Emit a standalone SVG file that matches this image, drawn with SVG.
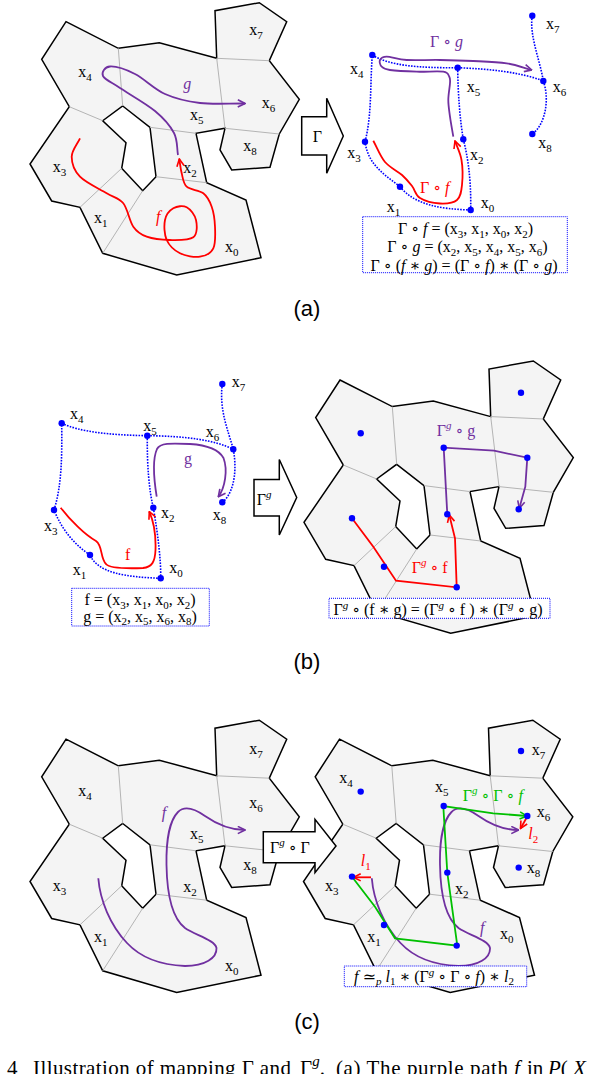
<svg xmlns="http://www.w3.org/2000/svg" width="604" height="1074" viewBox="0 0 604 1074">
<style>
.map{fill:#f4f4f4;stroke:#000;stroke-width:1.5;fill-rule:evenodd;stroke-linejoin:miter}
.div{fill:none;stroke:#b4b4b4;stroke-width:1}
.lbl{font-family:"Liberation Serif","DejaVu Serif",serif;font-size:16px;fill:#000}
.sub{font-size:11px}
.it{font-style:italic}
.dot{fill:#0000ff}
.dl{fill:none;stroke:#0000ff;stroke-width:1.6;stroke-dasharray:1.6 1.3}
.pp{fill:none;stroke:#7030a0;stroke-width:1.8}
.rp{fill:none;stroke:#ff0000;stroke-width:1.8}
.gp{fill:none;stroke:#00c000;stroke-width:1.8}
.box{fill:#fff;stroke:#0000ff;stroke-width:1;stroke-dasharray:1 1}
.arr{fill:#fff;stroke:#000;stroke-width:1.5}
.cap{font-family:"Liberation Serif",serif;font-size:21px;fill:#000}
.pl{font-family:"Liberation Sans",Arial,sans-serif;font-size:22px;fill:#000}
.purple{fill:#7030a0}
.red{fill:#ff0000}
.green{fill:#00c000}
</style>
<defs>
<marker id="mp" viewBox="0 0 10 10" refX="9" refY="5" markerWidth="9" markerHeight="9" markerUnits="userSpaceOnUse" orient="auto"><path d="M1,1 L9,5 L1,9" fill="none" stroke="#7030a0" stroke-width="1.8"/></marker>
<marker id="mr" viewBox="0 0 10 10" refX="9" refY="5" markerWidth="9" markerHeight="9" markerUnits="userSpaceOnUse" orient="auto"><path d="M1,1 L9,5 L1,9" fill="none" stroke="#ff0000" stroke-width="1.8"/></marker>
<marker id="mg" viewBox="0 0 10 10" refX="9" refY="5" markerWidth="9" markerHeight="9" markerUnits="userSpaceOnUse" orient="auto"><path d="M1,1 L9,5 L1,9" fill="none" stroke="#00c000" stroke-width="1.8"/></marker>
<g id="map">
<path class="map" d="M66,21.7 L118.3,48.3 L159.3,42.7 L216.7,58.3 L215,10.7 L259.3,2.7 L286.7,21.7 L269.3,60.7 L299.3,99.3 L279.3,134 L270,167.3 L231.7,170 L220,150 L225,128.3 L196,133.3 L206.7,182.7 L246,200 L261,257.7 L176.7,275 L102.7,253.3 L80,207.3 L51.7,201 L30,164 L69.3,106.7 L41.7,59.3 Z M122.7,106 L150,127.3 L156,176.7 L142.7,190.7 L121.7,168.3 L126,142.7 L102.7,120.7 Z"/>
<path class="div" d="M118.3,48.3 L122.7,106 M69.3,106.7 L102.7,120.7 M216.7,58.3 L225,128.3 M216.7,58.3 L269.3,60.7 M225,128.3 L279.3,134 M150,127.3 L196,133.3 M156,176.7 L206.7,182.7 M121.7,168.3 L80,207.3 M142.7,190.7 L102.7,253.3"/>
</g>
</defs>

<!-- ===== (a) ===== -->
<g id="a-left">
<use href="#map"/>
<text class="lbl" x="249.3" y="35">x<tspan class="sub" dy="4">7</tspan></text>
<text class="lbl" x="78.3" y="76.7">x<tspan class="sub" dy="4">4</tspan></text>
<text class="lbl" x="261.7" y="108.3">x<tspan class="sub" dy="4">6</tspan></text>
<text class="lbl" x="190" y="120">x<tspan class="sub" dy="4">5</tspan></text>
<text class="lbl" x="243.3" y="150.7">x<tspan class="sub" dy="4">8</tspan></text>
<text class="lbl" x="52.7" y="171.7">x<tspan class="sub" dy="4">3</tspan></text>
<text class="lbl" x="183.3" y="173.3">x<tspan class="sub" dy="4">2</tspan></text>
<text class="lbl" x="94" y="222.7">x<tspan class="sub" dy="4">1</tspan></text>
<text class="lbl" x="225" y="251.7">x<tspan class="sub" dy="4">0</tspan></text>
<path class="pp" marker-end="url(#mp)" d="M178,155 C176.7,147.7 177.8,140.3 174,133 S164,118.5 155,111 S128.7,93.8 120,88 S104.7,79.6 103,76 S104.7,66.8 110,66.5 S125.8,69.4 135,74 S154.2,89.2 165,94 S186.7,101.4 200,103 S230,103.3 245,103.5"/>
<path class="rp" marker-end="url(#mr)" d="M80,138.3 C77.2,144.4 71.7,150.3 71.7,156.7 S74.2,170.6 80,176.7 S99.5,188.9 106.7,193.3 S118.9,197.7 123.3,203.3 S129.4,221.1 133.3,226.7 S140.6,234.5 146.7,236.7 S162.2,239.9 170,240 S189,240.6 193.3,237.3 S197.1,225 196,220 S190.5,209.3 186.7,207.3 S176.9,206.2 173.3,208.3 S166.1,214.7 165,220 S164.2,234.5 166.7,240 S174.5,250.5 180,253.3 S194.5,257.5 200,256.7 S210.8,253.3 213.3,248.3 S215.3,233.6 215,226.7 S213.7,212.3 211.7,206.7 S207.5,196.6 203.3,193.3 S190.3,190 186.7,186.7 S182.9,177.9 181.7,173.3 S180.1,163.8 179.3,159"/>
<text class="lbl it purple" x="183.3" y="89" font-size="18">g</text>
<text class="lbl it red" x="156" y="222" font-size="18">f</text>
</g>

<g id="a-arrow">
<polygon class="arr" points="301.7,116.7 326.7,116.7 326.7,98.3 343.3,136 326.7,173.3 326.7,155 301.7,155"/>
<text class="lbl" x="312.7" y="141.7">Γ</text>
</g>

<g id="a-right">
<g id="a-dotted">
<path class="dl" d="M532.3,15.7 C529,35 540,60 543.3,81"/>
<path class="dl" d="M543.3,81 C550,100 545,125 532.3,134"/>
<path class="dl" d="M372.3,55 C390,66 420,68 457.7,67.7"/>
<path class="dl" d="M457.7,67.7 C490,69 520,72 543.3,81"/>
<path class="dl" d="M457.7,67.7 C458,95 460,120 463.3,139.3"/>
<path class="dl" d="M463.3,139.3 C470,165 471,190 470.7,210"/>
<path class="dl" d="M470.7,210 C440,209 415,205 400,186.7"/>
<path class="dl" d="M400,186.7 C385,175 368,165 365,141.7"/>
<path class="dl" d="M365,141.7 C372,115 370,85 372.3,55"/>
</g>
<path class="pp" marker-end="url(#mp)" d="M453.3,136.7 C452.2,130 450.8,122.8 450,116.7 S448.3,105.6 448.3,100 S449.8,87.2 450,83.3 S450.4,78.6 449.3,76.7 S448.7,72.5 443.3,71.7 S425.6,72 416.7,71.7 S395.8,70.8 390,70 S383.4,68.4 381.7,66.7 S379.2,61.7 380,60 S382.3,56.7 386.7,56.7 S397.8,59.5 406.7,60 S428.9,59.8 440,60 S462.2,60.5 473.3,61 S497,61.8 506.7,63.3 S523.4,67.8 531.7,70"/>
<path class="rp" marker-end="url(#mr)" d="M373.3,140.7 C377.2,147.8 380.2,156.3 385,162 S397.5,171 402,175 S409,182.2 412,186 S415.3,195.1 420,198 S433.8,203.2 440,203.5 S453.3,203.1 457,200 S461.3,191.7 462,185 S462.7,167.3 461.5,160 S457.2,147.3 455,141"/>
<g id="a-dots">
<circle class="dot" cx="532.3" cy="15.7" r="3.2"/>
<circle class="dot" cx="372.3" cy="55" r="3.2"/>
<circle class="dot" cx="457.7" cy="67.7" r="3.2"/>
<circle class="dot" cx="543.3" cy="81" r="3.2"/>
<circle class="dot" cx="365" cy="141.7" r="3.2"/>
<circle class="dot" cx="463.3" cy="139.3" r="3.2"/>
<circle class="dot" cx="532.3" cy="134" r="3.2"/>
<circle class="dot" cx="400" cy="186.7" r="3.2"/>
<circle class="dot" cx="470.7" cy="210" r="3.2"/>
</g>
<text class="lbl" x="546" y="29">x<tspan class="sub" dy="4">7</tspan></text>
<text class="lbl" x="350" y="74">x<tspan class="sub" dy="4">4</tspan></text>
<text class="lbl" x="466.7" y="91.7">x<tspan class="sub" dy="4">5</tspan></text>
<text class="lbl" x="552.7" y="91.7">x<tspan class="sub" dy="4">6</tspan></text>
<text class="lbl" x="347.3" y="158">x<tspan class="sub" dy="4">3</tspan></text>
<text class="lbl" x="470" y="160">x<tspan class="sub" dy="4">2</tspan></text>
<text class="lbl" x="538.3" y="148">x<tspan class="sub" dy="4">8</tspan></text>
<text class="lbl" x="386.7" y="211.7">x<tspan class="sub" dy="4">1</tspan></text>
<text class="lbl" x="480.7" y="208.3">x<tspan class="sub" dy="4">0</tspan></text>
<text class="lbl purple" x="430" y="47" font-size="17">Γ ∘ <tspan class="it">g</tspan></text>
<text class="lbl red" x="420" y="193" font-size="17">Γ ∘ <tspan class="it">f</tspan></text>
<g id="a-box">
<rect class="box" x="362.7" y="216.7" width="204.6" height="56"/>
<text class="lbl" x="465.5" y="234" text-anchor="middle" font-size="15">Γ ∘ <tspan class="it">f</tspan> = (x<tspan class="sub" dy="3.5">3</tspan><tspan dy="-3.5">, x</tspan><tspan class="sub" dy="3.5">1</tspan><tspan dy="-3.5">, x</tspan><tspan class="sub" dy="3.5">0</tspan><tspan dy="-3.5">, x</tspan><tspan class="sub" dy="3.5">2</tspan><tspan dy="-3.5">)</tspan></text>
<text class="lbl" x="467.5" y="252.3" text-anchor="middle" font-size="15">Γ ∘ <tspan class="it">g</tspan> = (x<tspan class="sub" dy="3.5">2</tspan><tspan dy="-3.5">, x</tspan><tspan class="sub" dy="3.5">5</tspan><tspan dy="-3.5">, x</tspan><tspan class="sub" dy="3.5">4</tspan><tspan dy="-3.5">, x</tspan><tspan class="sub" dy="3.5">5</tspan><tspan dy="-3.5">, x</tspan><tspan class="sub" dy="3.5">6</tspan><tspan dy="-3.5">)</tspan></text>
<text class="lbl" x="464" y="270.5" text-anchor="middle" font-size="15">Γ ∘ (<tspan class="it">f</tspan> ∗ <tspan class="it">g</tspan>) = (Γ ∘ <tspan class="it">f</tspan>) ∗ (Γ ∘ <tspan class="it">g</tspan>)</text>
</g>
</g>
<text class="pl" x="307" y="316" text-anchor="middle">(a)</text>

<!-- ===== (b) ===== -->
<g id="b-left">
<g id="b-dotted">
<path class="dl" d="M222.3,384 C219,410 228,430 233.3,449.3"/>
<path class="dl" d="M233.3,449.3 C238,475 232,495 222.3,502.3"/>
<path class="dl" d="M61.7,423.3 C80,432 110,435 147.3,435.7"/>
<path class="dl" d="M147.3,435.7 C185,436 215,440 233.3,449.3"/>
<path class="dl" d="M147.3,435.7 C147,465 149,490 153.3,507.7"/>
<path class="dl" d="M153.3,507.7 C158,535 161,560 160.7,578.3"/>
<path class="dl" d="M160.7,578.3 C125,577 98,573 90,555"/>
<path class="dl" d="M90,555 C75,545 62,530 54,510"/>
<path class="dl" d="M54,510 C62,485 62,455 61.7,423.3"/>
</g>
<path class="rp" marker-end="url(#mr)" d="M60.7,507.7 C70,520 85,535 96,541 C103,546 100,558 106,564 C110,569 130,568.5 143,568 C152,567 155,562 155.5,550 C156,535 153,520 149.3,511.7"/>
<path class="pp" marker-end="url(#mp)" d="M156.7,496.7 C154,480 152,460 157,449 C160,443 170,443 190,444 C205,445 218,448 223.5,458 C228,470 225,488 218.3,496.7"/>
<g id="b-dots">
<circle class="dot" cx="222.3" cy="384" r="3.2"/>
<circle class="dot" cx="61.7" cy="423.3" r="3.2"/>
<circle class="dot" cx="147.3" cy="435.7" r="3.2"/>
<circle class="dot" cx="233.3" cy="449.3" r="3.2"/>
<circle class="dot" cx="54" cy="510" r="3.2"/>
<circle class="dot" cx="153.3" cy="507.7" r="3.2"/>
<circle class="dot" cx="222.3" cy="502.3" r="3.2"/>
<circle class="dot" cx="90" cy="555" r="3.2"/>
<circle class="dot" cx="160.7" cy="578.3" r="3.2"/>
</g>
<text class="lbl" x="231.7" y="387">x<tspan class="sub" dy="4">7</tspan></text>
<text class="lbl" x="70" y="419.3">x<tspan class="sub" dy="4">4</tspan></text>
<text class="lbl" x="143.3" y="431">x<tspan class="sub" dy="4">5</tspan></text>
<text class="lbl" x="205.7" y="436.7">x<tspan class="sub" dy="4">6</tspan></text>
<text class="lbl" x="44" y="530.7">x<tspan class="sub" dy="4">3</tspan></text>
<text class="lbl" x="161" y="518.3">x<tspan class="sub" dy="4">2</tspan></text>
<text class="lbl" x="212.7" y="520">x<tspan class="sub" dy="4">8</tspan></text>
<text class="lbl" x="72.7" y="575">x<tspan class="sub" dy="4">1</tspan></text>
<text class="lbl" x="169.3" y="573.3">x<tspan class="sub" dy="4">0</tspan></text>
<text class="lbl purple" x="184" y="464" font-size="17">g</text>
<text class="lbl red" x="125" y="560" font-size="17">f</text>
<g id="b-box">
<rect class="box" x="71.7" y="588.3" width="137.6" height="37.7"/>
<text class="lbl" x="140" y="605" text-anchor="middle" font-size="15">f = (x<tspan class="sub" dy="3.5">3</tspan><tspan dy="-3.5">, x</tspan><tspan class="sub" dy="3.5">1</tspan><tspan dy="-3.5">, x</tspan><tspan class="sub" dy="3.5">0</tspan><tspan dy="-3.5">, x</tspan><tspan class="sub" dy="3.5">2</tspan><tspan dy="-3.5">)</tspan></text>
<text class="lbl" x="140" y="621.7" text-anchor="middle" font-size="15">g = (x<tspan class="sub" dy="3.5">2</tspan><tspan dy="-3.5">, x</tspan><tspan class="sub" dy="3.5">5</tspan><tspan dy="-3.5">, x</tspan><tspan class="sub" dy="3.5">6</tspan><tspan dy="-3.5">, x</tspan><tspan class="sub" dy="3.5">8</tspan><tspan dy="-3.5">)</tspan></text>
</g>
</g>

<g id="b-arrow">
<polygon class="arr" points="254,479.5 279.3,479.5 279.3,459.5 296.7,497.5 279.3,535 279.3,516 254,516"/>
<text class="lbl" x="256.7" y="505">Γ<tspan class="it sub" dy="-7">g</tspan></text>
</g>

<g id="b-right">
<use href="#map" transform="translate(274,358.3)"/>
<polyline class="pp" marker-end="url(#mp)" points="447.3,514.3 443.7,447.7 494,450.7 527.3,457.7 525.3,486.7 519.3,508.3"/>
<polyline class="rp" marker-end="url(#mr)" points="352,518.3 373.3,546.7 396,580.7 456.7,587.3 455,538.3 449.3,515"/>
<g id="b-rdots">
<circle class="dot" cx="521" cy="392.7" r="3.2"/>
<circle class="dot" cx="360.7" cy="433.3" r="3.2"/>
<circle class="dot" cx="443.7" cy="447.7" r="3.2"/>
<circle class="dot" cx="527.3" cy="457.7" r="3.2"/>
<circle class="dot" cx="352" cy="518.3" r="3.2"/>
<circle class="dot" cx="447.3" cy="514.3" r="3.2"/>
<circle class="dot" cx="518.7" cy="509.3" r="3.2"/>
<circle class="dot" cx="384" cy="566.7" r="3.2"/>
<circle class="dot" cx="456.7" cy="587.3" r="3.2"/>
</g>
<text class="lbl purple" x="436.7" y="435.5" font-size="17">Γ<tspan class="it sub" dy="-7">g</tspan><tspan dy="7"> ∘ g</tspan></text>
<text class="lbl red" x="411.7" y="573.3" font-size="17">Γ<tspan class="it sub" dy="-7">g</tspan><tspan dy="7"> ∘ f</tspan></text>
<g id="b-rbox">
<rect class="box" x="329" y="598.3" width="221" height="20"/>
<text class="lbl" x="438" y="614.5" text-anchor="middle" font-size="15">Γ<tspan class="it sub" dy="-6">g</tspan><tspan dy="6"> ∘ (f ∗ g) = (Γ</tspan><tspan class="it sub" dy="-6">g</tspan><tspan dy="6"> ∘ f ) ∗ (Γ</tspan><tspan class="it sub" dy="-6">g</tspan><tspan dy="6"> ∘ g)</tspan></text>
</g>
</g>
<text class="pl" x="307" y="669" text-anchor="middle">(b)</text>

<!-- ===== (c) ===== -->
<g id="c-left">
<use href="#map" transform="translate(0,717.5)"/>
<text class="lbl" x="249.3" y="754">x<tspan class="sub" dy="4">7</tspan></text>
<text class="lbl" x="78.3" y="795.7">x<tspan class="sub" dy="4">4</tspan></text>
<text class="lbl" x="249.3" y="808.3">x<tspan class="sub" dy="4">6</tspan></text>
<text class="lbl" x="190" y="839">x<tspan class="sub" dy="4">5</tspan></text>
<text class="lbl" x="243.3" y="869.7">x<tspan class="sub" dy="4">8</tspan></text>
<text class="lbl" x="52.7" y="890.7">x<tspan class="sub" dy="4">3</tspan></text>
<text class="lbl" x="183.3" y="892.3">x<tspan class="sub" dy="4">2</tspan></text>
<text class="lbl" x="94" y="941.7">x<tspan class="sub" dy="4">1</tspan></text>
<text class="lbl" x="225" y="970.7">x<tspan class="sub" dy="4">0</tspan></text>
<path class="pp" marker-end="url(#mp)" d="M98.3,878.3 C100,900 110,925 127,943 C140,957 160,965 185,966 C205,966 217,958 216.5,948 C215,940 195,935 185,928 C172,918 167,895 166.5,865 C166,840 170,820 178,812 C185,805 195,809 205,816 C215,823 230,830 245,830"/>
<text class="lbl it purple" x="161.7" y="818" font-size="18">f</text>
</g>

<g id="c-right">
<use href="#map" transform="translate(273.5,717.5)"/>
<path class="pp" marker-end="url(#mp)" transform="translate(273.5,0)" d="M98.3,878.3 C100,900 110,925 127,943 C140,957 160,965 185,966 C205,966 217,958 216.5,948 C215,940 195,935 185,928 C172,918 167,895 166.5,865 C166,840 170,820 178,812 C185,805 195,809 205,816 C215,823 230,830 245,830"/>
<polyline class="gp" marker-end="url(#mg)" points="352,876.7 375,906.7 395,938.3 457.3,945.7 447.3,872.7 443.3,806 493.3,813.3 527,816"/>
<path class="rp" marker-end="url(#mr)" d="M371,877.3 L353.5,877.3"/>
<path class="rp" marker-end="url(#mr)" d="M527,817 L520.5,828.5"/>
<g id="c-rdots">
<circle class="dot" cx="521" cy="751" r="3.2"/>
<circle class="dot" cx="360.7" cy="791.6" r="3.2"/>
<circle class="dot" cx="443.7" cy="806" r="3.2"/>
<circle class="dot" cx="527.3" cy="816" r="3.2"/>
<circle class="dot" cx="352" cy="876.6" r="3.2"/>
<circle class="dot" cx="447.3" cy="872.6" r="3.2"/>
<circle class="dot" cx="518.7" cy="867.6" r="3.2"/>
<circle class="dot" cx="384" cy="925" r="3.2"/>
<circle class="dot" cx="456.7" cy="945.6" r="3.2"/>
</g>
<text class="lbl" x="531.7" y="755">x<tspan class="sub" dy="4">7</tspan></text>
<text class="lbl" x="339.3" y="783.3">x<tspan class="sub" dy="4">4</tspan></text>
<text class="lbl" x="435" y="791.7">x<tspan class="sub" dy="4">5</tspan></text>
<text class="lbl" x="536.7" y="816.7">x<tspan class="sub" dy="4">6</tspan></text>
<text class="lbl" x="325" y="890.7">x<tspan class="sub" dy="4">3</tspan></text>
<text class="lbl" x="455" y="894">x<tspan class="sub" dy="4">2</tspan></text>
<text class="lbl" x="526.7" y="872.7">x<tspan class="sub" dy="4">8</tspan></text>
<text class="lbl" x="367.3" y="941.7">x<tspan class="sub" dy="4">1</tspan></text>
<text class="lbl" x="500" y="939.3">x<tspan class="sub" dy="4">0</tspan></text>
<text class="lbl green" x="462.7" y="801" font-size="17">Γ<tspan class="it sub" dy="-7">g</tspan><tspan dy="7"> ∘ Γ ∘ </tspan><tspan class="it">f</tspan></text>
<text class="lbl red it" x="528.3" y="839" font-size="18">l<tspan class="sub" dy="4" style="font-style:normal">2</tspan></text>
<text class="lbl red it" x="360.7" y="866" font-size="18">l<tspan class="sub" dy="4" style="font-style:normal">1</tspan></text>
<text class="lbl it purple" x="480" y="933" font-size="18">f</text>
<g id="c-rbox">
<rect class="box" x="344.3" y="966" width="182.4" height="20.7"/>
<text class="lbl" x="434" y="981.7" text-anchor="middle" font-size="15"><tspan class="it">f</tspan> ≃<tspan class="it sub" dy="3.5">p</tspan><tspan dy="-3.5"> </tspan><tspan class="it">l</tspan><tspan class="sub" dy="3.5">1</tspan><tspan dy="-3.5"> ∗ (Γ</tspan><tspan class="it sub" dy="-6">g</tspan><tspan dy="6"> ∘ Γ ∘ </tspan><tspan class="it">f</tspan>) ∗ <tspan class="it">l</tspan><tspan class="sub" dy="3.5">2</tspan></text>
</g>
</g>

<g id="c-arrow">
<polygon class="arr" points="263.3,831.7 315,831.7 315,819.3 336,846 315,872.7 315,862.7 263.3,862.7"/>
<text class="lbl" x="270" y="853.3">Γ<tspan class="it sub" dy="-7">g</tspan><tspan dy="7"> ∘ Γ</tspan></text>
</g>
<text class="pl" x="307" y="1029" text-anchor="middle">(c)</text>

<g id="caption">
<text class="cap" x="7" y="1075">4</text>
<text class="cap" x="33" y="1075" textLength="258" lengthAdjust="spacing">Illustration of mapping Γ and</text>
<text class="cap" x="300" y="1075">Γ<tspan class="it" font-size="15" dy="-9">g</tspan><tspan dy="9">.</tspan></text>
<text class="cap" x="336" y="1075" textLength="172" lengthAdjust="spacing">(a) The purple path</text>
<text class="cap it" x="514" y="1075">f</text>
<text class="cap" x="527" y="1075">in</text>
<text class="cap" x="548" y="1075"><tspan class="it">P</tspan>(<tspan class="it"> X</tspan></text>
</g>
</svg>
